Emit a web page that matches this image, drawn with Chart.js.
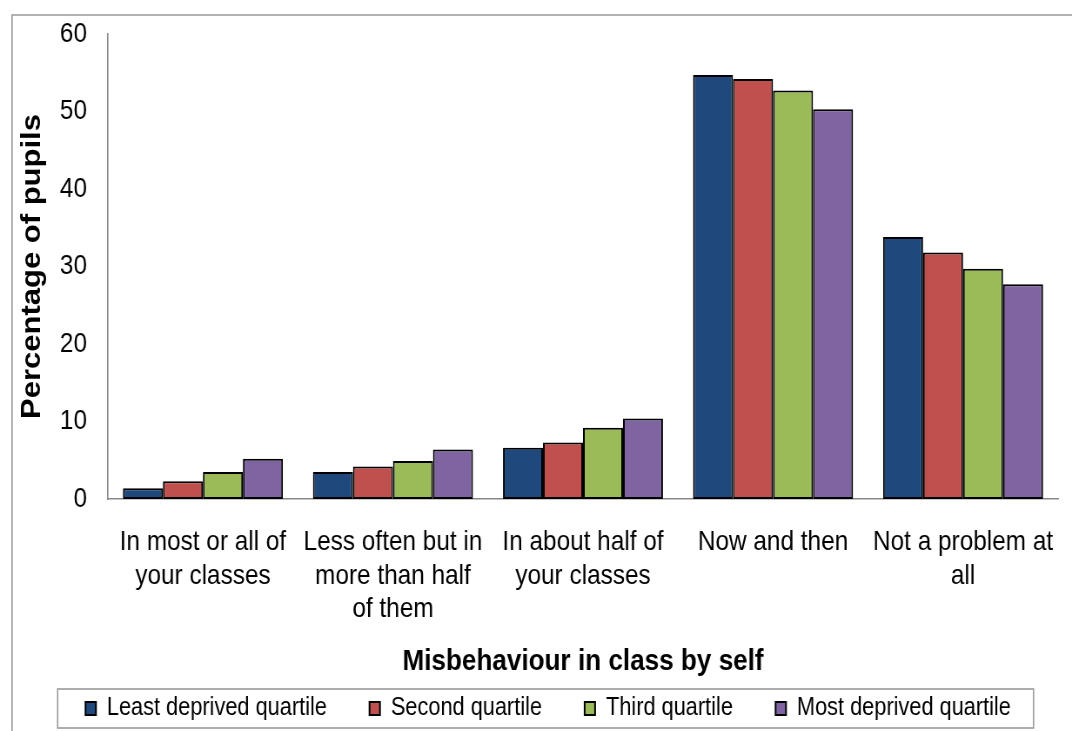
<!DOCTYPE html>
<html>
<head>
<meta charset="utf-8">
<script src="https://cdn.jsdelivr.net/npm/chart.js@4.4.1/dist/chart.umd.min.js"></script>
<style>
html,body{margin:0;padding:0;background:#fff;overflow:hidden;}
#wrap{position:relative;width:1072px;height:731px;}
#c{display:block;width:1072px;height:731px;}
</style>
</head>
<body>
<div id="wrap"><canvas id="c" width="1232" height="731" style="width:1072px;height:731px"></canvas></div>
<script>
// ---- data ----
const categories = [
  ["In most or all of", "your classes"],
  ["Less often but in", "more than half", "of them"],
  ["In about half of", "your classes"],
  "Now and then",
  ["Not a problem at", "all"]
];
const seriesNames = ["Least deprived quartile", "Second quartile", "Third quartile", "Most deprived quartile"];
const leastDeprived = [1.4, 3.5, 6.6, 54.7, 33.8];
const secondQuartile = [2.3, 4.2, 7.3, 54.2, 31.8];
const thirdQuartile = [3.5, 4.9, 9.2, 52.7, 29.7];
const mostDeprived = [5.2, 6.4, 10.4, 50.3, 27.7];
const yTicks = [0, 10, 20, 30, 40, 50, 60];
const xTitle = "Misbehaviour in class by self";
const yTitle = "Percentage of pupils";

// ---- styles ----
const colors = ['#1F497D', '#C0504D', '#9BBB59', '#8064A2'];
const FONT = "'Liberation Sans', Arial, sans-serif";
// the drawing surface is wider than the page and squeezed horizontally by CSS,
// matching the horizontally condensed look of the original picture
const SX = 1072 / 1232;

const seriesValues = [leastDeprived, secondQuartile, thirdQuartile, mostDeprived];

const framePlugin = {
  id: 'frame',
  beforeDraw(chart) {
    const ctx = chart.ctx;
    ctx.save();
    ctx.strokeStyle = '#999';
    ctx.lineWidth = 1.6;
    ctx.beginPath();
    ctx.moveTo(12 / SX, 731);
    ctx.lineTo(12 / SX, 15);
    ctx.lineTo(chart.width, 15);
    ctx.stroke();
    ctx.restore();
  },
  afterDraw(chart) {
    const lg = chart.legend;
    if (!lg || !lg.legendHitBoxes || !lg.legendHitBoxes.length) return;
    const hb = lg.legendHitBoxes;
    const first = hb[0], last = hb[hb.length - 1];
    const cy = first.top + first.height / 2;
    const ctx = chart.ctx;
    const x0 = first.left - 32, x1 = last.left + last.width + 26;
    ctx.save();
    ctx.strokeStyle = '#999';
    ctx.lineWidth = 1.6;
    ctx.strokeRect(x0, cy - 19.5, x1 - x0, 39);
    ctx.restore();
  }
};

new Chart(document.getElementById('c'), {
  type: 'bar',
  data: {
    labels: categories,
    datasets: seriesNames.map((n, i) => ({
      label: n,
      data: seriesValues[i],
      backgroundColor: colors[i],
      borderColor: '#000',
      borderWidth: 2,
      borderSkipped: false,
      categoryPercentage: 0.842,
      barPercentage: 1.0
    }))
  },
  options: {
    responsive: false,
    animation: false,
    devicePixelRatio: 1,
    layout: { padding: { left: 44, right: 16, top: 34, bottom: 0 } },
    plugins: {
      tooltip: { enabled: false },
      title: { display: false },
      legend: {
        display: true,
        position: 'bottom',
        align: 'center',
        labels: {
          boxWidth: 12,
          boxHeight: 13,
          padding: 49,
          color: '#000',
          font: { family: FONT, size: 25 }
        }
      }
    },
    scales: {
      x: {
        grid: { display: false, drawTicks: true, tickLength: 19 },
        border: { display: true, color: '#888', width: 1.6 },
        ticks: {
          color: '#000',
          autoSkip: false,
          maxRotation: 0,
          minRotation: 0,
          padding: 7,
          font: { family: FONT, size: 28, lineHeight: 1.21 }
        },
        title: {
          display: true,
          text: xTitle,
          color: '#000',
          font: { family: FONT, size: 30, weight: 'bold', lineHeight: 1.2 },
          padding: { top: 0, bottom: -33 }
        },
        afterFit(s) { s.height = 148; }
      },
      y: {
        min: 0,
        max: 60,
        grid: { display: false, drawTicks: true, tickLength: 17 },
        border: { display: true, color: '#888', width: 1.6 },
        afterBuildTicks(s) { s.ticks = yTicks.map(v => ({ value: v })); },
        ticks: {
          color: '#000',
          padding: 7,
          font: { family: FONT, size: 28 }
        },
        title: {
          display: true,
          text: yTitle,
          color: '#000',
          font: { family: FONT, size: 31, weight: 'bold', lineHeight: 1.2 },
          padding: { top: -25, bottom: 0 }
        },
        afterFit(s) { s.width = 80; }
      }
    }
  },
  plugins: [framePlugin]
});
</script>
</body>
</html>
